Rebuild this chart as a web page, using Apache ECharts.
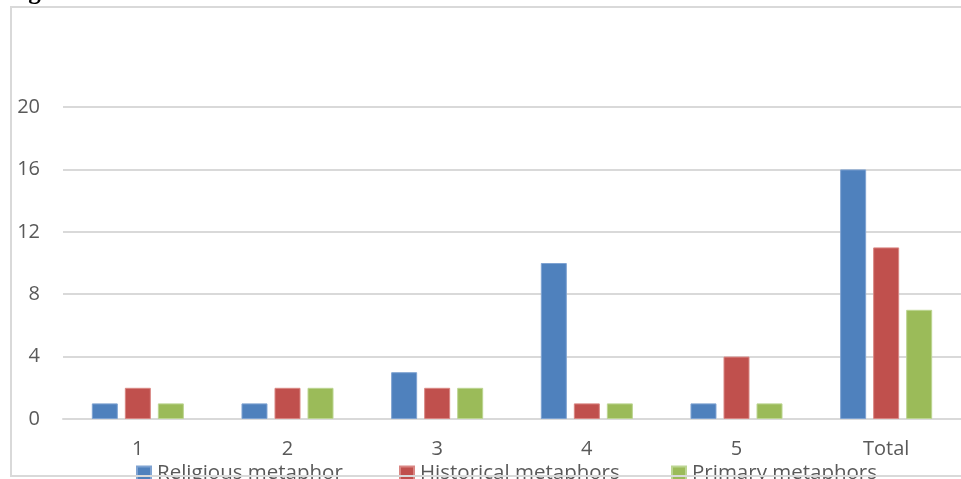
<!DOCTYPE html>
<html>
<head>
<meta charset="utf-8">
<script src="https://cdn.jsdelivr.net/npm/echarts@6/dist/echarts.min.js"></script>
<style>html,body{margin:0;padding:0;background:#fff;}#c{width:961px;height:479px;}</style>
</head>
<body>
<div id="c"></div>
<script>
const categories = ['1', '2', '3', '4', '5', 'Total'];
const religious = [1, 1, 3, 10, 1, 16];
const historical = [2, 2, 2, 1, 4, 11];
const primary = [1, 2, 2, 1, 1, 7];
const seriesNames = ['Religious metaphor', 'Historical metaphors', 'Primary metaphors'];
const colors = ['#4F81BD', '#C0504D', '#9BBB59'];
const borders = ['#7fa3d2', '#d98683', '#bcd592'];

const chart = echarts.init(document.getElementById('c'));
const font = 'Open Sans';
const mk = (name, data, i) => ({
  name, type: 'bar', data,
  barWidth: 26, barGap: '27%',
  itemStyle: { color: colors[i], borderColor: borders[i], borderWidth: 1 },
  emphasis: { disabled: true }
});
const legendLefts = [136, 399, 671];
const legends = seriesNames.map((n, i) => ({
  left: legendLefts[i], top: 458, padding: [5, 0, 5, 0],
  itemWidth: 14, itemHeight: 14, icon: 'rect',
  textStyle: { fontSize: 20.5, color: '#595959', fontFamily: font, lineHeight: 14, padding: [0, 0, 0, 1] },
  data: [n]
}));
chart.setOption({
  animation: false,
  textStyle: { fontFamily: font },
  graphic: [
    { type: 'rect', shape: { x: 11, y: 7, width: 1000, height: 469 }, style: { fill: 'none', stroke: '#d9d9d9', lineWidth: 2 }, z: 100 },
    { type: 'text', left: 6, top: -20, style: { text: 'Fig. 4', font: 'bold 25px "Liberation Serif"', fill: '#000' } }
  ],
  grid: { left: 63, right: -2, top: 107, bottom: 60, containLabel: false },
  legend: legends,
  xAxis: {
    type: 'category', data: categories,
    axisLine: { lineStyle: { color: '#d9d9d9', width: 2 } },
    axisTick: { show: false },
    axisLabel: { fontSize: 20, color: '#595959', margin: 20 }
  },
  yAxis: {
    type: 'value', min: 0, max: 20, interval: 4,
    axisLine: { show: false }, axisTick: { show: false },
    splitLine: { lineStyle: { color: '#d9d9d9', width: 2 } },
    axisLabel: { fontSize: 20, color: '#595959', margin: 23 }
  },
  series: [mk(seriesNames[0], religious, 0), mk(seriesNames[1], historical, 1), mk(seriesNames[2], primary, 2)]
});
</script>
</body>
</html>
